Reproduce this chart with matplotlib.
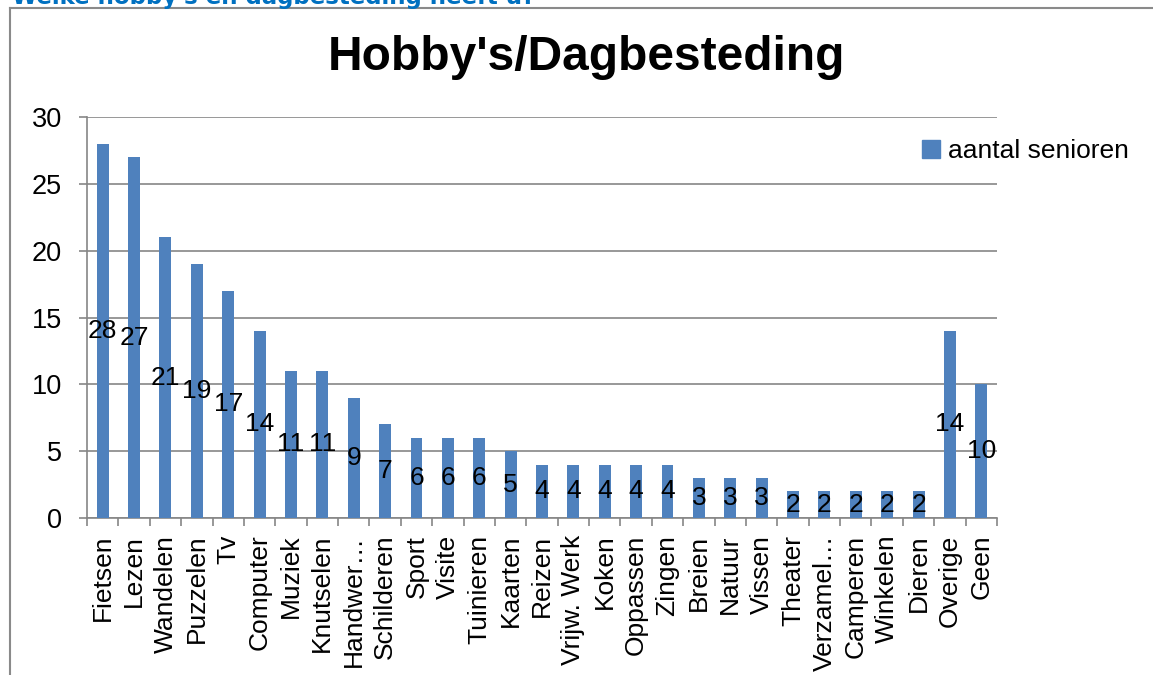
import matplotlib
matplotlib.use("Agg")
import matplotlib.pyplot as plt
from matplotlib.patches import Patch
from matplotlib.lines import Line2D

categories = ["Fietsen", "Lezen", "Wandelen", "Puzzelen", "Tv", "Computer", "Muziek",
              "Knutselen", "Handwer…", "Schilderen", "Sport", "Visite", "Tuinieren",
              "Kaarten", "Reizen", "Vrijw. Werk", "Koken", "Oppassen", "Zingen", "Breien",
              "Natuur", "Vissen", "Theater", "Verzamel…", "Camperen", "Winkelen", "Dieren",
              "Overige", "Geen"]
values = [28, 27, 21, 19, 17, 14, 11, 11, 9, 7, 6, 6, 6, 5, 4, 4, 4, 4, 4, 3, 3, 3,
          2, 2, 2, 2, 2, 14, 10]
yticks = [0, 5, 10, 15, 20, 25, 30]
series_name = "aantal senioren"
title = "Hobby's/Dagbesteding"
header = "Welke hobby's en dagbesteding heeft u?"

plt.rcParams['font.family'] = ['Liberation Sans', 'DejaVu Sans']

W, H = 1153, 675
fig = plt.figure(figsize=(W / 100, H / 100), dpi=100)

# outer frame lines
fig.add_artist(Line2D([10 / W, 10 / W], [0, 1 - 8 / H], transform=fig.transFigure,
                      color="#8a8a8a", lw=1.5))
fig.add_artist(Line2D([10 / W, 1], [1 - 8 / H, 1 - 8 / H], transform=fig.transFigure,
                      color="#8a8a8a", lw=1.5))
fig.text(12 / W, 1 - 4 / H, header, family="DejaVu Sans", fontweight="bold",
         fontsize=16.5, color="#0070C0", va="baseline", ha="left")

ax = fig.add_axes([87 / W, 1 - 518 / H, (997 - 87) / W, (518 - 117) / H])
n = len(categories)
x = list(range(n))
bars = ax.bar(x, values, width=0.38, color="#4F81BD", zorder=3, label=series_name)

for xi, v in zip(x, values):
    ax.text(xi, v / 2, str(v), ha="center", va="center", fontsize=19, color="black", zorder=4)

ax.set_xlim(-0.5, n - 0.5)
ax.set_ylim(0, 30)
ax.set_yticks(yticks)
ax.set_yticklabels([str(t) for t in yticks], fontsize=19.5)
ax.yaxis.grid(True, color="#868686", lw=1.2, zorder=0)
ax.set_xticks(x)
ax.set_xticklabels(categories, rotation=90, fontsize=19)
ax.set_xticks([i - 0.5 for i in range(n + 1)], minor=True)
ax.tick_params(axis="x", which="major", length=0, pad=12)
ax.tick_params(axis="x", which="minor", length=6, color="#868686", width=1.2)
ax.tick_params(axis="y", length=6, color="#868686", width=1.2, pad=12)
for s in ["top", "right"]:
    ax.spines[s].set_visible(False)
for s in ["left", "bottom"]:
    ax.spines[s].set_color("#868686")
    ax.spines[s].set_linewidth(1.2)

fig.text(586 / W, 1 - 58 / H, title, fontsize=34.5, fontweight="bold", ha="center", va="center")

leg = fig.legend(handles=[Patch(color="#4F81BD", label=series_name)],
                 loc="center left", bbox_to_anchor=(922 / W, 1 - 151 / H),
                 frameon=False, fontsize=19, handlelength=0.7, handleheight=0.7,
                 handletextpad=0.3, borderaxespad=0, borderpad=0)

fig.savefig("out.png", dpi=100)
